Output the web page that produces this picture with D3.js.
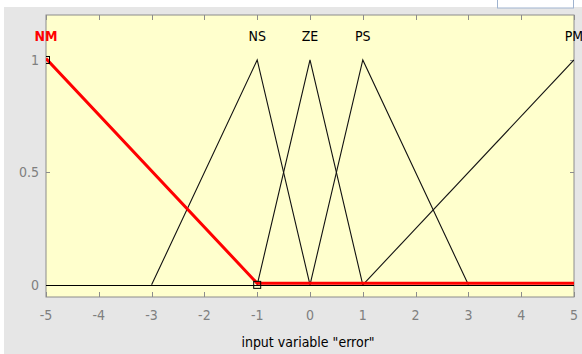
<!DOCTYPE html>
<html>
<head>
<meta charset="utf-8">
<script src="https://cdn.jsdelivr.net/npm/d3@7"></script>
<style>
  body { margin: 0; background: #fff; }
  svg { display: block; }
  .tick-label { font-family: "Liberation Sans Narrow", "Arial Narrow", "DejaVu Sans Condensed", sans-serif; font-size: 14px; fill: #7f7f7f; }
  .mf-label { font-family: "Liberation Sans Narrow", "Arial Narrow", "DejaVu Sans Condensed", sans-serif; font-size: 14px; fill: #000; }
</style>
</head>
<body>
<div id="chart"></div>
<script>
// membership functions of input "error"
const mfNames = ["NM", "NS", "ZE", "PS", "PM"];
const mfPoints = [
  [[-5, 1], [-1, 0], [5, 0]],
  [[-3, 0], [-1, 1], [0, 0]],
  [[-1, 0], [0, 1], [1, 0]],
  [[0, 0], [1, 1], [3, 0]],
  [[1, 0], [5, 1]]
];
const mfPeaks = [-5, -1, 0, 1, 5];
const xTicks = [-5, -4, -3, -2, -1, 0, 1, 2, 3, 4, 5];
const yTicks = [0, 0.5, 1];
const selected = 0;

const W = 582, H = 354;
const box = {left: 46, right: 574, top: 15, bottom: 297};

const svg = d3.select("#chart").append("svg").attr("width", W).attr("height", H);

svg.append("rect").attr("x", 4).attr("y", 7).attr("width", W - 4).attr("height", H - 7).attr("fill", "#e6e6e6");
svg.append("rect").attr("x", 497.5).attr("y", -2).attr("width", 76).attr("height", 10)
  .attr("fill", "#fff").attr("stroke", "#9fb3cf");

svg.append("clipPath").attr("id", "plot-clip").append("rect")
  .attr("x", box.left).attr("y", box.top).attr("width", box.right - box.left).attr("height", box.bottom - box.top);

const x = d3.scaleLinear().domain([-5, 5]).range([box.left, box.right]);
const y = d3.scaleLinear().domain([-0.054, 1.2]).range([box.bottom, box.top]);

svg.append("rect").attr("x", box.left).attr("y", box.top)
  .attr("width", box.right - box.left).attr("height", box.bottom - box.top)
  .attr("fill", "#ffffcd").attr("stroke", "#8c8c8c");

// ticks (inward, like matlab)
const tk = svg.append("g").attr("stroke", "#8c8c8c").attr("stroke-width", 1);
xTicks.forEach(t => {
  const px = Math.round(x(t)) + 0.5;
  tk.append("line").attr("x1", px).attr("x2", px).attr("y1", box.bottom).attr("y2", box.bottom - 5);
  tk.append("line").attr("x1", px).attr("x2", px).attr("y1", box.top).attr("y2", box.top + 5);
});
yTicks.forEach(t => {
  const py = Math.round(y(t)) + 0.5;
  tk.append("line").attr("x1", box.left).attr("x2", box.left + 4).attr("y1", py).attr("y2", py);
  tk.append("line").attr("x1", box.right).attr("x2", box.right - 4).attr("y1", py).attr("y2", py);
});

svg.selectAll(".xl").data(xTicks).enter().append("text").attr("class", "tick-label")
  .attr("x", d => x(d)).attr("y", 320).attr("text-anchor", "middle").text(d => d);
svg.selectAll(".yl").data(yTicks).enter().append("text").attr("class", "tick-label")
  .attr("x", 39).attr("y", d => y(d) + 5).attr("text-anchor", "end").text(d => d);

svg.append("text").attr("class", "mf-label").attr("x", 308).attr("y", 347)
  .attr("text-anchor", "middle").text('input variable "error"');

const plot = svg.append("g").attr("clip-path", "url(#plot-clip)");

// zero line
plot.append("line").attr("x1", box.left).attr("x2", box.right)
  .attr("y1", Math.round(y(0)) + 0.5).attr("y2", Math.round(y(0)) + 0.5)
  .attr("stroke", "#000").attr("stroke-width", 1.2);

const line = d3.line().x(d => x(d[0])).y(d => y(d[1]));

mfPoints.forEach((pts, i) => {
  if (i === selected) return;
  plot.append("path").datum(pts).attr("d", line).attr("fill", "none")
    .attr("stroke", "#111").attr("stroke-width", 1.1);
});

// selected mf drawn on top in red
plot.append("path").datum(mfPoints[selected]).attr("d", line).attr("fill", "none")
  .attr("stroke", "#ff0000").attr("stroke-width", 3).attr("transform", "translate(0,-1.5)");

// handles of the selected mf
[mfPoints[selected][0], mfPoints[selected][1]].forEach(p => {
  plot.append("rect").attr("x", x(p[0]) - 3.5).attr("y", y(p[1]) - 3.5)
    .attr("width", 7).attr("height", 7).attr("fill", "none").attr("stroke", "#000");
});

svg.selectAll(".mfl").data(mfNames).enter().append("text").attr("class", "mf-label")
  .attr("x", (d, i) => x(mfPeaks[i])).attr("y", 41).attr("text-anchor", "middle")
  .style("fill", (d, i) => i === selected ? "#ff0000" : "#000")
  .style("font-weight", (d, i) => i === selected ? "bold" : "normal")
  .text(d => d);
</script>
</body>
</html>
